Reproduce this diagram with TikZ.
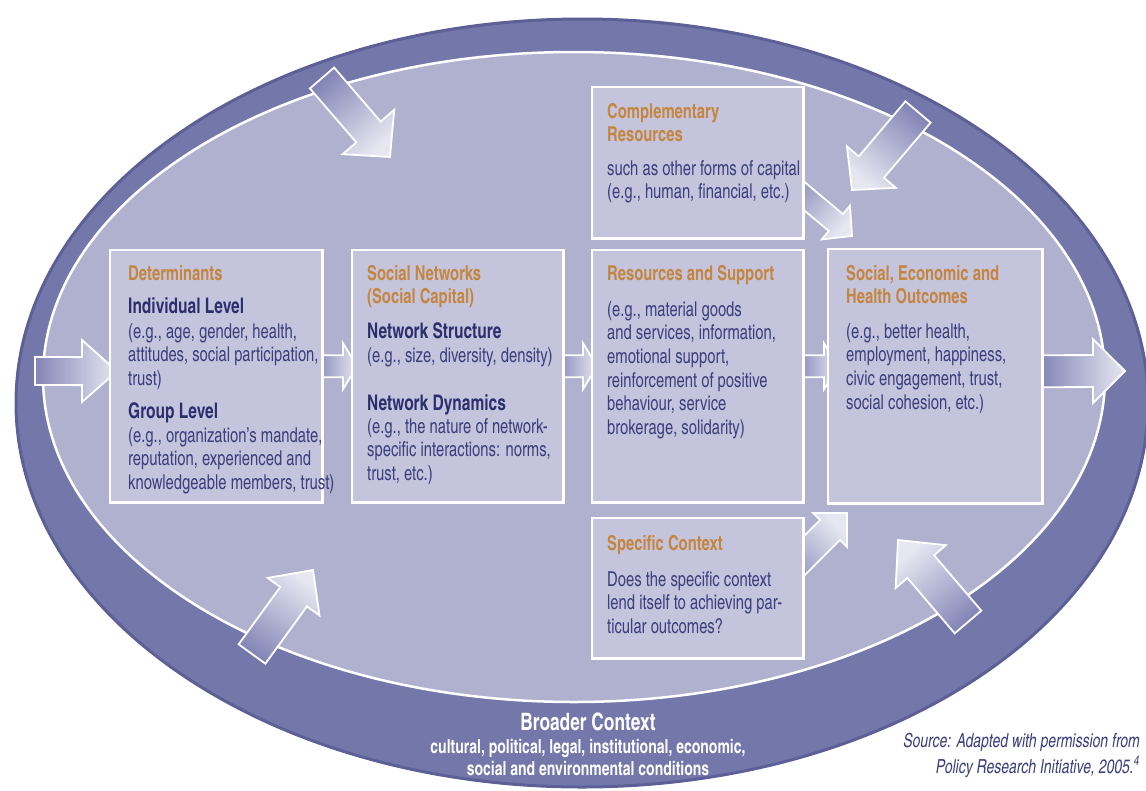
\documentclass[tikz,border=0pt]{standalone}
\usepackage{fontspec}
\setmainfont{texgyreheroscn}[Extension=.otf, UprightFont=*-regular, BoldFont=*-bold, ItalicFont=*-italic, BoldItalicFont=*-bolditalic, FakeStretch=0.88]
\usetikzlibrary{calc}
\definecolor{band}{HTML}{7377AA}
\definecolor{bandedge}{HTML}{5C6096}
\definecolor{innerc}{HTML}{AFB1CF}
\definecolor{boxc}{HTML}{C4C5DD}
\definecolor{orangeh}{HTML}{C5853F}
\definecolor{navyt}{HTML}{3C3F7D}
\definecolor{navyb}{HTML}{2C2F6E}
\definecolor{arrdark}{HTML}{8386B6}
\definecolor{arrlight}{HTML}{E6E7F1}
\tikzset{
 boxst/.style={draw=white, line width=2.2pt, fill=boxc, anchor=north west, inner sep=0pt},
 hd/.style={anchor=base west, inner sep=0pt, text=orangeh, font=\fontsize{20.5}{23}\selectfont\bfseries, align=left},
 sub/.style={anchor=base west, inner sep=0pt, text=navyb, font=\fontsize{21.5}{23.5}\selectfont\bfseries},
 bd/.style={anchor=base west, inner sep=0pt, text=navyt, font=\fontsize{20.5}{23.7}\selectfont, align=left},
 arrowshade/.style={draw=white, line width=1.8pt, line join=miter, top color=arrlight, bottom color=arrdark},
}
\newcommand\blockarrow[7]{%
 \coordinate (#1-H) at ($(#3)!#6!(#2)$);
 \path[arrowshade, shading angle=#7] ($(#2)!#4!90:(#3)$) -- ($(#1-H)!#4!90:(#3)$) -- ($(#1-H)!#5!90:(#3)$) -- (#3) -- ($(#1-H)!#5!-90:(#3)$) -- ($(#1-H)!#4!-90:(#3)$) -- ($(#2)!#4!-90:(#3)$) -- cycle;
}
\begin{document}
\begin{tikzpicture}[x=1pt,y=-1pt]
\useasboundingbox (0,0) rectangle (1146,790);
% broader context band
\fill[band] (582,403) ellipse [x radius=567pt, y radius=385pt];
\draw[bandedge, line width=3pt] (582,403) ellipse [x radius=566pt, y radius=384pt];
% inner area
\fill[innerc] (574,377) ellipse [x radius=531pt, y radius=325pt];
\draw[white, line width=2.5pt] (574,377) ellipse [x radius=531pt, y radius=325pt];
% box positions (drawn later on top of arrows)
\node[anchor=north west, inner sep=0pt, minimum width=212pt, minimum height=252pt] (det) at (110,250) {};
\node[anchor=north west, inner sep=0pt, minimum width=211pt, minimum height=252pt] (sn) at (352,250) {};
\node[anchor=north west, inner sep=0pt, minimum width=211pt, minimum height=252pt] (rs) at (592,250) {};
\node[anchor=north west, inner sep=0pt, minimum width=214pt, minimum height=254pt] (out) at (828,249) {};
\node[anchor=north west, inner sep=0pt, minimum width=211pt, minimum height=151pt] (comp) at (592,87) {};
\node[anchor=north west, inner sep=0pt, minimum width=211pt, minimum height=140pt] (spec) at (592,518) {};
% arrow coordinates
\coordinate (inT) at (35,371);
\coordinate (inP) at ($(det.west)+(7,-5)$);
\coordinate (dsT) at ($(det.east)+(-8,-10)$);
\coordinate (dsP) at ($(sn.west)+(5,-10)$);
\coordinate (srT) at ($(sn.east)+(-8,-10)$);
\coordinate (srP) at ($(rs.west)+(5,-10)$);
\coordinate (roT) at ($(rs.east)+(-8,-10)$);
\coordinate (roP) at ($(out.west)+(10,-10)$);
\coordinate (outT) at ($(out.east)+(-2,-5)$);
\coordinate (outP) at (1125,371);
\coordinate (tlT) at (322,78);
\coordinate (tlP) at (390,157);
\coordinate (trT) at (918,112);
\coordinate (trP) at (852,190);
\coordinate (crT) at (785,180);
\coordinate (crP) at (852,236);
\coordinate (scT) at (780,580);
\coordinate (scP) at (847,513);
\coordinate (blT) at (252,654);
\coordinate (blP) at (313,570);
\coordinate (brT) at (968,622);
\coordinate (brP) at (898,540);
% arrows
\blockarrow{a1}{inT}{inP}{14pt}{31pt}{35pt}{-90}
\blockarrow{a2}{dsT}{dsP}{11pt}{23pt}{14pt}{-90}
\blockarrow{a3}{srT}{srP}{11pt}{23pt}{14pt}{-90}
\blockarrow{a4}{roT}{roP}{11pt}{23pt}{14pt}{-90}
\blockarrow{a5}{outT}{outP}{16pt}{32pt}{32pt}{-90}
\blockarrow{a6}{tlT}{tlP}{16pt}{34pt}{33pt}{-139.3}
\blockarrow{a7}{trT}{trP}{16.5pt}{32pt}{30pt}{139.8}
\blockarrow{a8}{crT}{crP}{11pt}{22pt}{21pt}{-130}
\blockarrow{a9}{scT}{scP}{14pt}{24pt}{24pt}{-45}
\blockarrow{a10}{blT}{blP}{16.5pt}{32pt}{33pt}{-36}
\blockarrow{a11}{brT}{brP}{17.5pt}{33pt}{35pt}{40.5}
% boxes drawn on top of arrows
\path[boxst] (det.north west) rectangle (det.south east);
\path[boxst] (sn.north west) rectangle (sn.south east);
\path[boxst] (rs.north west) rectangle (rs.south east);
\path[boxst] (out.north west) rectangle (out.south east);
\path[boxst] (comp.north west) rectangle (comp.south east);
\path[boxst] (spec.north west) rectangle (spec.south east);
% Determinants (base anchor = last line baseline)
\node[hd] (detH) at (128,280) {Determinants};
\node[sub] (detS1) at (128,313) {Individual Level};
\node[bd] (detB1) at (128,385.4) {(e.g., age, gender, health,\\attitudes, social participation,\\trust)};
\node[sub] (detS2) at (128,418) {Group Level};
\node[bd] (detB2) at (128,489.4) {(e.g., organization’s mandate,\\reputation, experienced and\\knowledgeable members, trust)};
% Social networks
\node[hd] (snH) at (367,303) {Social Networks\\(Social Capital)};
\node[sub] (snS1) at (367,338) {Network Structure};
\node[bd] (snB1) at (367,362) {(e.g., size, diversity, density)};
\node[sub] (snS2) at (367,410) {Network Dynamics};
\node[bd] (snB2) at (367,480.4) {(e.g., the nature of network-\\specific interactions: norms,\\trust, etc.)};
% Resources and support
\node[hd] (rsH) at (607,280) {Resources and Support};
\node[bd] (rsB) at (607,434.5) {(e.g., material goods\\and services, information,\\emotional support,\\reinforcement of positive\\behaviour, service\\brokerage, solidarity)};
% Outcomes
\node[hd] (outH) at (846,303) {Social, Economic and\\Health Outcomes};
\node[bd] (outB) at (846,409.1) {(e.g., better health,\\employment, happiness,\\civic engagement, trust,\\social cohesion, etc.)};
% Complementary
\node[hd] (compH) at (607,141) {Complementary\\Resources};
\node[bd] (compB) at (607,198.7) {such as other forms of capital\\(e.g., human, financial, etc.)};
% Specific context
\node[hd] (specH) at (607,550) {Specific Context};
\node[bd] (specB) at (607,633.4) {Does the specific context\\lend itself to achieving par-\\ticular outcomes?};
% Broader context
\node[anchor=base, inner sep=0pt, text=white, font=\fontsize{24}{26}\selectfont\bfseries] (brH) at (588,730) {Broader Context};
\node[anchor=base, inner sep=0pt, text=white, align=center, font=\fontsize{19.4}{22}\selectfont\bfseries] (brB) at (588,775) {cultural, political, legal, institutional, economic,\\social and environmental conditions};
% Source
\node[anchor=base east, inner sep=0pt, text=navyt, align=right, font=\fontsize{19.4}{26}\selectfont\itshape] (src) at (1140,773) {Source: Adapted with permission from\\Policy Research Initiative, 2005.\textsuperscript{4}};
\end{tikzpicture}
\end{document}
